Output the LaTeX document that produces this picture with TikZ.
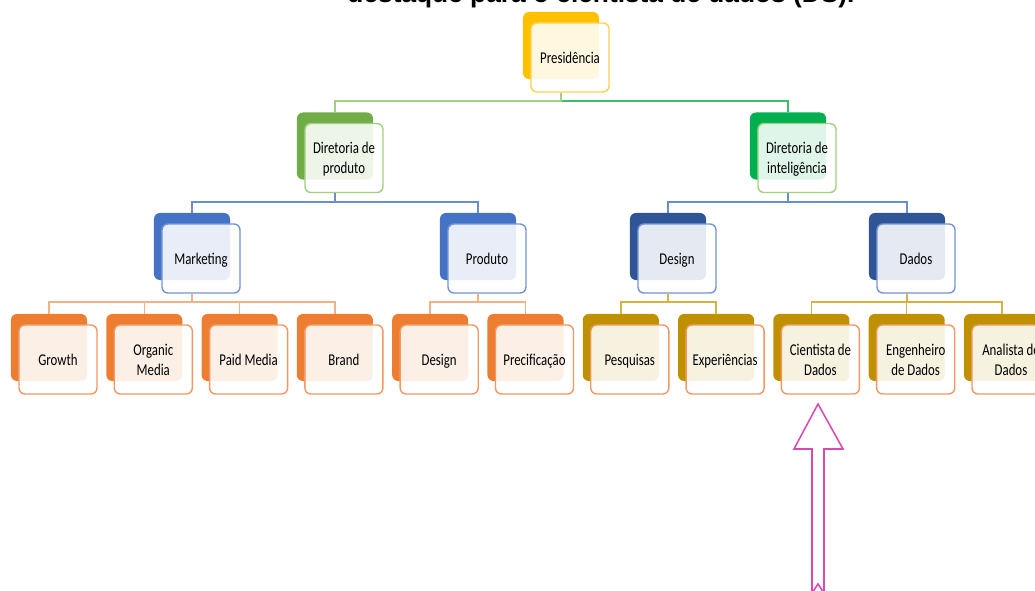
\documentclass[tikz,border=0pt]{standalone}
\usepackage{fontspec}
\newfontfamily\boxfont[FakeStretch=0.78]{Carlito}
\newfontfamily\titlefont{Liberation Sans}
\usetikzlibrary{positioning,calc}
\definecolor{presfill}{RGB}{255,192,0}
\definecolor{presline}{RGB}{255,208,80}
\definecolor{dprofill}{RGB}{112,173,71}
\definecolor{dintfill}{RGB}{0,176,80}
\definecolor{dirline}{RGB}{160,208,128}
\definecolor{intline}{RGB}{60,190,110}
\definecolor{areafill}{RGB}{68,114,196}
\definecolor{dataarea}{RGB}{47,85,151}
\definecolor{arealine}{RGB}{115,148,214}
\definecolor{orng}{RGB}{237,125,49}
\definecolor{gold}{RGB}{191,144,0}
\definecolor{leafline}{RGB}{242,152,98}
\definecolor{orngline}{RGB}{244,177,131}
\definecolor{goldline}{RGB}{214,178,64}
\definecolor{arrowpink}{RGB}{218,72,178}
\newcommand{\twolines}[2]{\raisebox{-1.4pt}[\height][\depth]{\begin{tabular}{@{}c@{}}#1\\#2\end{tabular}}}
\begin{document}
\begin{tikzpicture}[x=0.025cm,y=-0.025cm,
  backbox/.style={fill=#1, rounded corners=0.15cm, minimum width=1.9cm, minimum height=1.675cm, inner sep=0pt},
  frontbox/.style={draw=#1, line width=1pt, fill=white, fill opacity=0.88, text opacity=1, rounded corners=0.15cm,
    minimum width=1.95cm, minimum height=1.725cm, inner sep=1pt,
    font=\boxfont\fontsize{11.7}{14.2}\selectfont,
    execute at begin node={\rule{0pt}{12.8pt}}, execute at end node=\strut},
  conn/.style={draw=#1, line width=1pt}]
\useasboundingbox (0,0) rectangle (1035,591);
\node[font=\titlefont\bfseries\fontsize{18.7}{22}\selectfont, anchor=base] (titulo) at (601,3) {destaque para o cientista de dados (DS).};
% levels of the connectors
\coordinate (bar1) at (0,101);
\coordinate (bar2) at (0,202);
\coordinate (bar3) at (0,302);
% top
\node[backbox=presfill] (pres-b) at (561,45.5) {};
\node[frontbox=presline] (pres) at ([shift={(9,12)}]pres-b) {Presidência};
% diretorias
\node[backbox=dprofill] (dpro-b) at (335,146) {};
\node[frontbox=dirline] (dpro) at ([shift={(9,12)}]dpro-b) {\twolines{Diretoria de}{produto}};
\node[backbox=dintfill] (dint-b) at (788,146) {};
\node[frontbox=dirline] (dint) at ([shift={(9,12)}]dint-b) {\twolines{Diretoria de}{inteligência}};
% areas
\node[backbox=areafill] (mkt-b) at (192,246.5) {};
\node[frontbox=arealine] (mkt) at ([shift={(9,12)}]mkt-b) {Marketing};
\node[backbox=areafill] (prod-b) at (478,246.5) {};
\node[frontbox=arealine] (prod) at ([shift={(9,12)}]prod-b) {Produto};
\node[backbox=dataarea] (dsg-b) at (668,246.5) {};
\node[frontbox=arealine] (dsg) at ([shift={(9,12)}]dsg-b) {Design};
\node[backbox=dataarea] (dad-b) at (907,246.5) {};
\node[frontbox=arealine] (dad) at ([shift={(9,12)}]dad-b) {Dados};
% teams
\foreach \nm/\xx/\cb/\txt in {grow/49/orng/Growth, orgm/144.3/orng/{\twolines{Organic}{Media}},
    paid/239.6/orng/Paid Media, brand/334.9/orng/Brand, pdes/430.2/orng/Design,
    prec/525.5/orng/Precificação, pesq/620.8/gold/Pesquisas, expe/716.1/gold/Experiências,
    cien/811.4/gold/{\twolines{Cientista de}{Dados}}, eng/906.7/gold/{\twolines{Engenheiro}{de Dados}},
    anal/1002/gold/{\twolines{Analista de}{Dados}}}{
  \node[backbox=\cb] (\nm-b) at (\xx,347.5) {};
  \node[frontbox=leafline] (\nm) at ([shift={(9,12)}]\nm-b) {\txt};
}
% connectors
\draw[conn=intline] (pres-b |- pres.south) -- (pres-b |- bar1) -| (dint-b.north);
\draw[conn=dirline] (pres-b |- pres.south) -- (pres-b |- bar1) -| (dpro-b.north);
\foreach \ch in {mkt,prod} \draw[conn=areafill!80] (dpro-b |- dpro.south) -- (dpro-b |- bar2) -| (\ch-b.north);
\foreach \ch in {dsg,dad} \draw[conn=areafill!80] (dint-b |- dint.south) -- (dint-b |- bar2) -| (\ch-b.north);
\foreach \ch in {grow,orgm,paid,brand} \draw[conn=orngline] (mkt-b |- mkt.south) -- (mkt-b |- bar3) -| (\ch-b.north);
\foreach \ch in {pdes,prec} \draw[conn=orngline] (prod-b |- prod.south) -- (prod-b |- bar3) -| (\ch-b.north);
\foreach \ch in {pesq,expe} \draw[conn=goldline] (dsg-b |- dsg.south) -- (dsg-b |- bar3) -| (\ch-b.north);
\foreach \ch in {cien,eng,anal} \draw[conn=goldline] (dad-b |- dad.south) -- (dad-b |- bar3) -| (\ch-b.north);
% arrow to the data scientist
\draw[arrowpink, line width=1.1pt, line join=miter] (818,404) -- (843,449) -- (824,449) -- (824,593) -- (818,584)
  -- (812,593) -- (812,449) -- (794,449) -- cycle;
\end{tikzpicture}
\end{document}
